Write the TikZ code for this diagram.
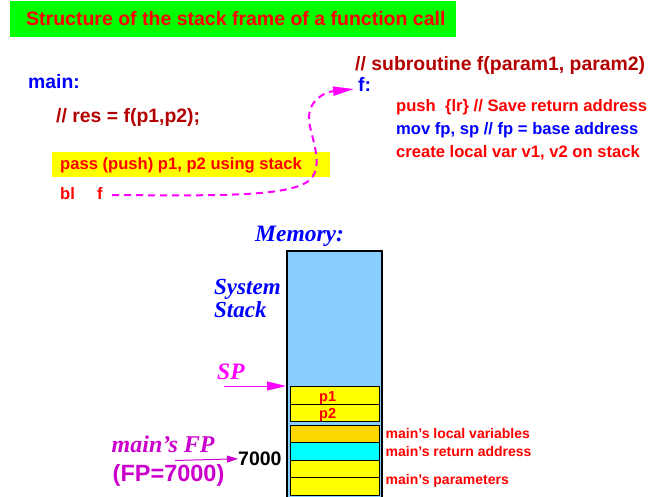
\documentclass[tikz,border=0pt]{standalone}
\usepackage{fontspec}
\setmainfont{Liberation Sans}
\newfontfamily\tms{Liberation Serif}
\usetikzlibrary{arrows.meta}
\definecolor{dred}{HTML}{B30000}
\definecolor{skyb}{HTML}{87CEFF}
\definecolor{gold}{HTML}{FFD700}
\definecolor{purp}{HTML}{CC00CC}
\definecolor{grn}{HTML}{00FF00}
\definecolor{ylw}{HTML}{FFFF00}
\definecolor{cyn}{HTML}{00FFFF}
\definecolor{mag}{HTML}{FF00FF}
\tikzset{
  txt/.style={inner sep=0pt, anchor=base west, font=\fontsize{#1}{#1}\selectfont\bfseries},
  txt/.default=19.4,
  serif/.style={inner sep=0pt, anchor=base west, font=\fontsize{#1}{#1}\selectfont\tms\bfseries\itshape},
  serif/.default=23.5,
  cell/.style={draw=black, line width=0.8pt},
}
\begin{document}
\begin{tikzpicture}[x=1pt,y=-1pt]
\useasboundingbox (0,0) rectangle (666,497);
% title
\fill[grn] (10,1) rectangle (456,37);
\node[txt=19.5, text=red] (title) at (26,26) {Structure of the stack frame of a function call};
% main
\node[txt, text=blue] (main) at (28,89) {main:};
\node[txt, text=dred] (res) at (56,123) {// res = f(p1,p2);};
\fill[ylw] (52,152) rectangle (330,177);
\node[txt=16.6, text=red] (pass) at (60,170) {pass (push) p1, p2 using stack};
\node[txt=16.6, text=red] (bl) at (60,200) {bl};
\node[txt=16.6, text=red] (blf) at (97,200) {f};
% subroutine
\node[txt, text=dred] (sub) at (355,71) {// subroutine f(param1, param2)};
\node[txt, text=blue] (fl) at (358,92) {f:};
\node[txt=16.6, text=red] (push) at (396,112) {push\ \ \{lr\} // Save return address};
\node[txt=16.6, text=blue] (mov) at (396,135) {mov fp, sp // fp = base address};
\node[txt=16.6, text=red] (create) at (396,158) {create local var v1, v2 on stack};
% call curve
\coordinate (cs) at (112,195);
\coordinate (ce) at (354,89);
\draw[mag, line width=2pt, dash pattern=on 7pt off 5pt,
  -{Triangle[length=21pt,width=9pt]}]
  (cs) .. controls (230,196) and (290,196) .. (310,180)
       .. controls (325,165) and (310,135) .. (309,120)
       .. controls (308,100) and (325,92) .. (ce);
% memory
\node[serif, text=blue] (memlbl) at (255,241) {Memory:};
\fill[skyb] (287,251) rectangle (382,497);
\draw[black, line width=1.5pt] (287,497) -- (287,251) -- (382,251) -- (382,497);
\node[serif=23, text=blue] (sys) at (214,294) {System};
\node[serif=23, text=blue] (stk) at (214,317) {Stack};
\node[serif, text=mag] (sp) at (217,379) {SP};
\coordinate (spa) at (224,386);
\coordinate (spb) at (286,386);
\draw[mag, line width=1pt, -{Triangle[length=19pt,width=9pt]}] (spa) -- (spb);
% cells
\path[cell, fill=ylw] (290,386) rectangle (379,404) node[midway] (c1) {};
\path[cell, fill=ylw] (290,404) rectangle (379,421) node[midway] (c2) {};
\path[cell, fill=gold] (290,425.5) rectangle (379,442.5) node[midway] (c3) {};
\path[cell, fill=cyn] (290,442.5) rectangle (379,460) node[midway] (c4) {};
\path[cell, fill=ylw] (290,460) rectangle (379,477.5) node[midway] (c5) {};
\path[cell, fill=ylw] (290,477.5) rectangle (379,495) node[midway] (c6) {};
\node[txt=14.5, text=red] (p1) at (319,401) {p1};
\node[txt=14.5, text=red] (p2) at (319,418) {p2};
\node[txt=14, text=red] (lv) at (385.5,438.5) {main’s local variables};
\node[txt=14, text=red] (ra) at (385.5,456) {main’s return address};
\node[txt=14, text=red] (pa) at (385.5,484) {main’s parameters};
% FP
\node[serif=24, text=purp] (mfp) at (111.5,452.5) {main’s FP};
\node[txt=23.5, text=purp] (fpv) at (112.5,481) {(FP=7000)};
\node[txt=19.5, text=black] (k7) at (238,465.5) {7000};
\coordinate (fpa) at (175,460.5);
\draw[purp, line width=1pt, -{Triangle[length=11pt,width=7pt]}] (fpa) -- (k7.west);
\end{tikzpicture}
\end{document}
